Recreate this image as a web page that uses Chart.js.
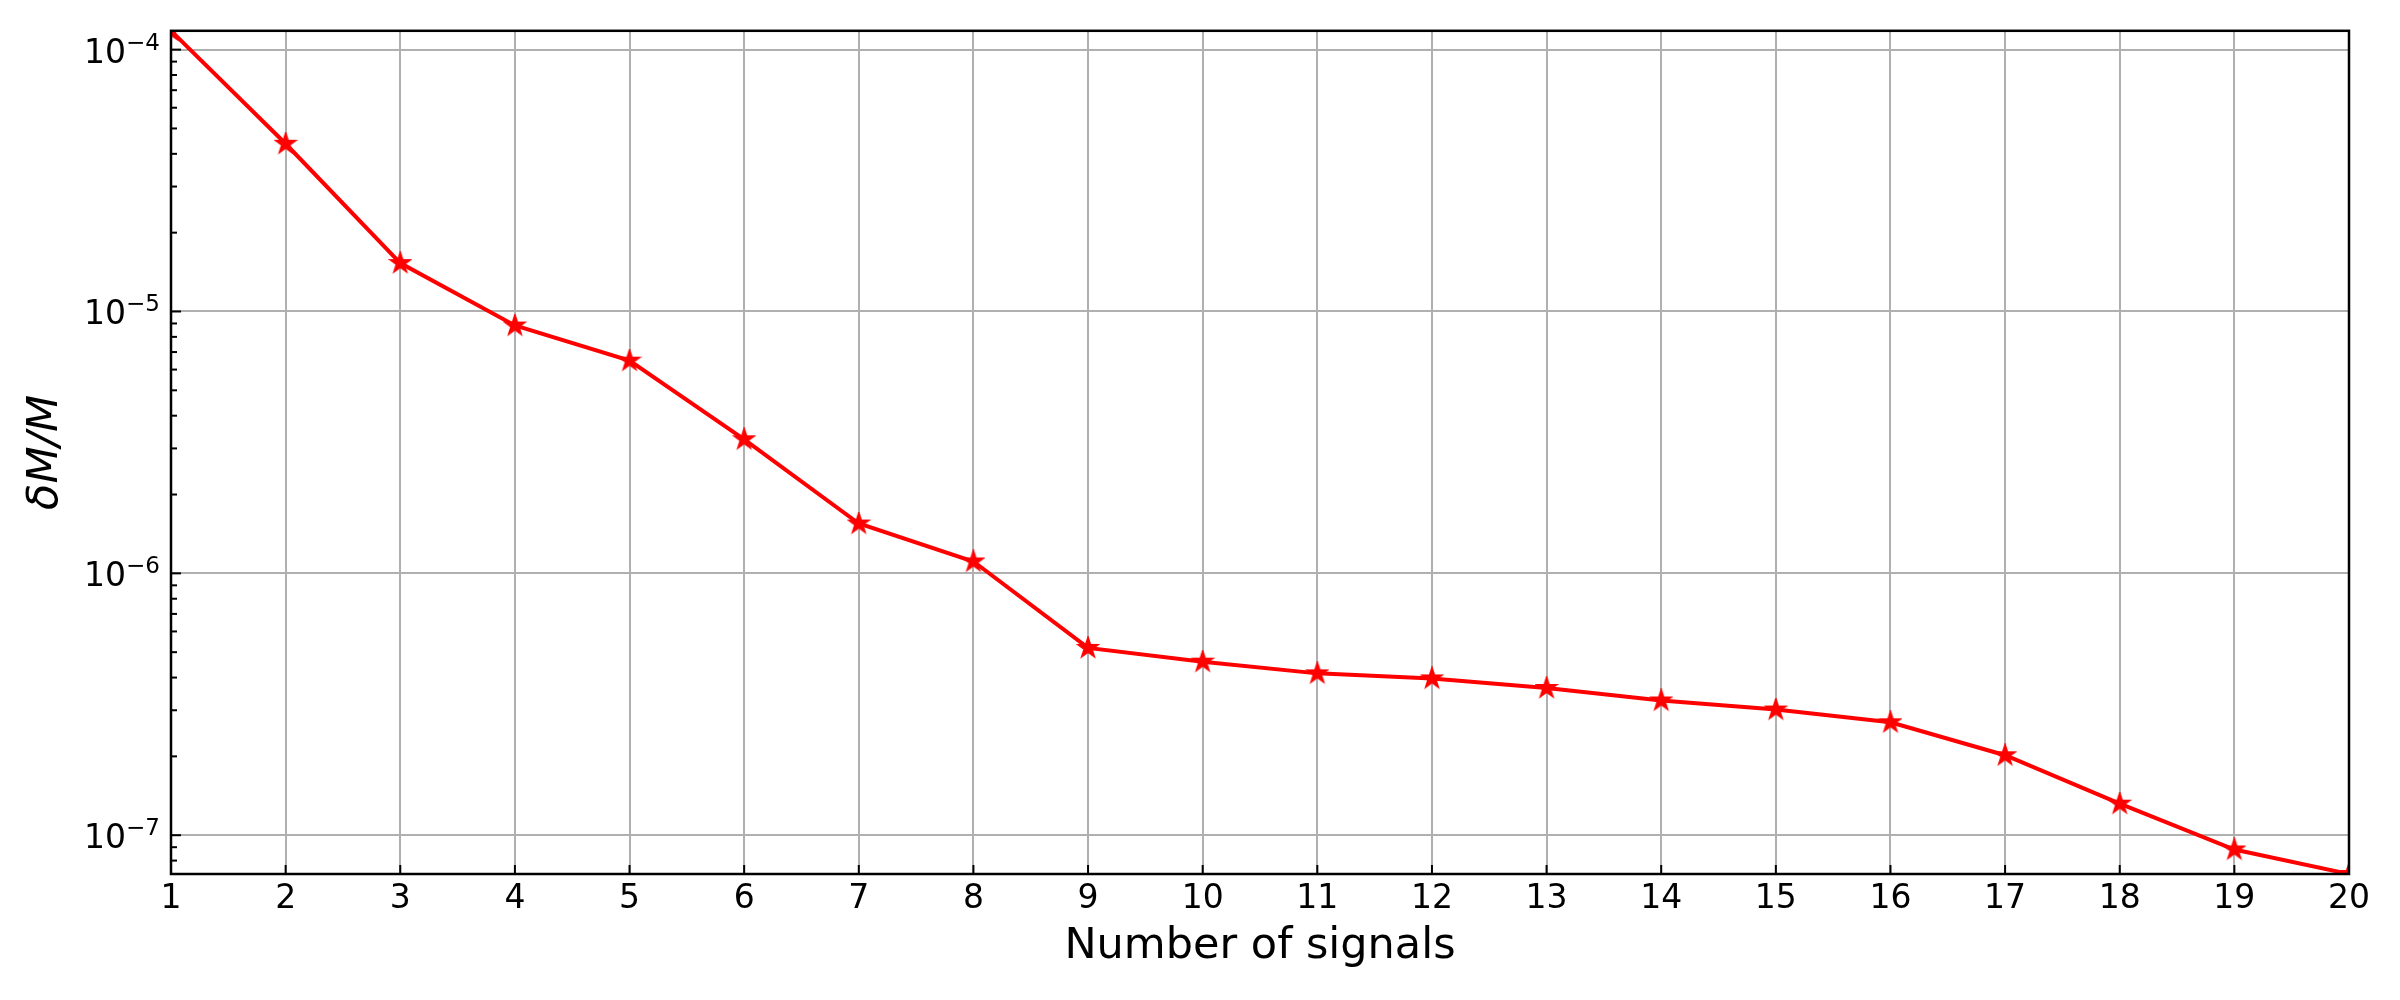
<!DOCTYPE html>
<html lang="en">
<head>
    <meta charset="UTF-8">
    <meta name="viewport" content="width=device-width, initial-scale=1.0">
    <script src="https://cdn.jsdelivr.net/npm/chart.js@4.4.1/dist/chart.umd.min.js"></script>
    <title>Number of signals</title>
</head>
<body>
    <style>
        body {
            margin: 0;
            background: #ffffff;
        }
        .canvas-container {
            position: relative;
            width: 2400px;
            height: 1000px;
        }
    </style>

    <div class="canvas-container">
        <canvas id="myChart" width="2400" height="1000"></canvas>
    </div>

    <script>
        // values
        var nSignals = [1, 2, 3, 4, 5, 6, 7, 8, 9, 10, 11, 12, 13, 14, 15, 16, 17, 18, 19, 20];
        var deltaM = [1.18e-4, 4.37e-5, 1.53e-5, 8.84e-6, 6.49e-6, 3.25e-6, 1.55e-6, 1.11e-6, 5.19e-7, 4.60e-7,
                      4.15e-7, 3.97e-7, 3.65e-7, 3.27e-7, 3.02e-7, 2.70e-7, 2.02e-7, 1.32e-7, 8.82e-8, 7.11e-8];
        var yTicks = [1e-7, 1e-6, 1e-5, 1e-4];
        var xTitle = 'Number of signals';
        var yTitle = 'δM/M';

        // filled five point star like matplotlib's '*'
        function starMarker(r, color) {
            var size = Math.ceil(r * 2 + 4);
            var c = document.createElement('canvas');
            c.width = size;
            c.height = size;
            var g = c.getContext('2d');
            var cx = size / 2, cy = size / 2;
            g.beginPath();
            for (var i = 0; i < 10; i++) {
                var rad = (i % 2 === 0) ? r : r * 0.382;
                var a = -Math.PI / 2 + i * Math.PI / 5;
                var px = cx + rad * Math.cos(a), py = cy + rad * Math.sin(a);
                if (i === 0) g.moveTo(px, py); else g.lineTo(px, py);
            }
            g.closePath();
            g.fillStyle = color;
            g.fill();
            g.lineWidth = 2;
            g.strokeStyle = color;
            g.stroke();
            return c;
        }

        var font = 'DejaVu Sans';
        var yMin = Math.min.apply(null, deltaM);
        var yMax = Math.max.apply(null, deltaM);

        // box, inward ticks, minor log ticks and 10^n labels
        var frame = {
            id: 'frame',
            afterDatasetsDraw: function (chart) {
                var ctx = chart.ctx;
                var a = chart.chartArea;
                var xs = chart.scales.x, ys = chart.scales.y;
                ctx.save();
                ctx.strokeStyle = '#000';
                ctx.lineWidth = 2;
                nSignals.forEach(function (n) {
                    var px = xs.getPixelForValue(n);
                    ctx.beginPath();
                    ctx.moveTo(px, a.bottom);
                    ctx.lineTo(px, a.bottom - 9);
                    ctx.stroke();
                });
                for (var d = -8; d <= -4; d++) {
                    for (var k = 1; k <= 9; k++) {
                        var v = k * Math.pow(10, d);
                        if (v < yMin || v > yMax) continue;
                        var py = ys.getPixelForValue(v);
                        ctx.beginPath();
                        ctx.moveTo(a.left, py);
                        ctx.lineTo(a.left + (k === 1 ? 10 : 6), py);
                        ctx.stroke();
                    }
                }
                ctx.lineWidth = 2.5;
                ctx.strokeRect(a.left, a.top, a.right - a.left, a.bottom - a.top);

                ctx.fillStyle = '#000';
                ctx.textBaseline = 'alphabetic';
                ctx.textAlign = 'left';
                yTicks.forEach(function (t) {
                    var py = ys.getPixelForValue(t);
                    var exp = '\u2212' + String(-Math.round(Math.log10(t)));
                    ctx.font = '33px "' + font + '"';
                    var wBase = ctx.measureText('10').width;
                    ctx.font = '23px "' + font + '"';
                    var wExp = ctx.measureText(exp).width;
                    var x0 = a.left - 11 - wBase - wExp;
                    ctx.font = '33px "' + font + '"';
                    ctx.fillText('10', x0, py + 13);
                    ctx.font = '23px "' + font + '"';
                    ctx.fillText(exp, x0 + wBase, py);
                });
                ctx.restore();
            }
        };

        var ctx = document.getElementById('myChart').getContext('2d');

        var myChart = new Chart(ctx, {
            type: 'line',
            data: {
                datasets: [{
                    data: nSignals.map(function (n, i) { return {x: n, y: deltaM[i]}; }),
                    borderColor: '#ff0000',
                    backgroundColor: '#ff0000',
                    borderWidth: 4,
                    pointStyle: starMarker(10, '#ff0000'),
                    pointRadius: 10,
                    tension: 0,
                    clip: 0
                }]
            },
            options: {
                responsive: false,
                animation: false,
                events: [],
                layout: {
                    padding: {left: 0, top: 30, right: 51, bottom: 0}
                },
                plugins: {
                    legend: {display: false},
                    tooltip: {enabled: false}
                },
                scales: {
                    x: {
                        type: 'linear',
                        min: 1,
                        max: 20,
                        afterFit: function (scale) { scale.height = 126; },
                        ticks: {
                            stepSize: 1,
                            padding: 6,
                            color: '#000',
                            font: {family: font, size: 33}
                        },
                        grid: {color: '#b0b0b0', lineWidth: 2, drawTicks: false},
                        border: {display: false},
                        title: {
                            display: true,
                            text: xTitle,
                            color: '#000',
                            font: {family: font, size: 43},
                            padding: {top: 0, bottom: 27}
                        }
                    },
                    y: {
                        type: 'logarithmic',
                        min: yMin,
                        max: yMax,
                        afterFit: function (scale) { scale.width = 171; },
                        afterBuildTicks: function (scale) {
                            scale.ticks = yTicks.map(function (v) { return {value: v, major: true}; });
                        },
                        ticks: {
                            padding: 11,
                            color: '#000',
                            font: {family: font, size: 33},
                            callback: function () { return ''; }
                        },
                        grid: {color: '#b0b0b0', lineWidth: 2, drawTicks: false},
                        border: {display: false},
                        title: {
                            display: true,
                            text: yTitle,
                            color: '#000',
                            font: {family: font, size: 43, style: 'italic'},
                            padding: {top: 20, bottom: 0}
                        }
                    }
                }
            },
            plugins: [frame]
        });
    </script>
</body>
</html>
